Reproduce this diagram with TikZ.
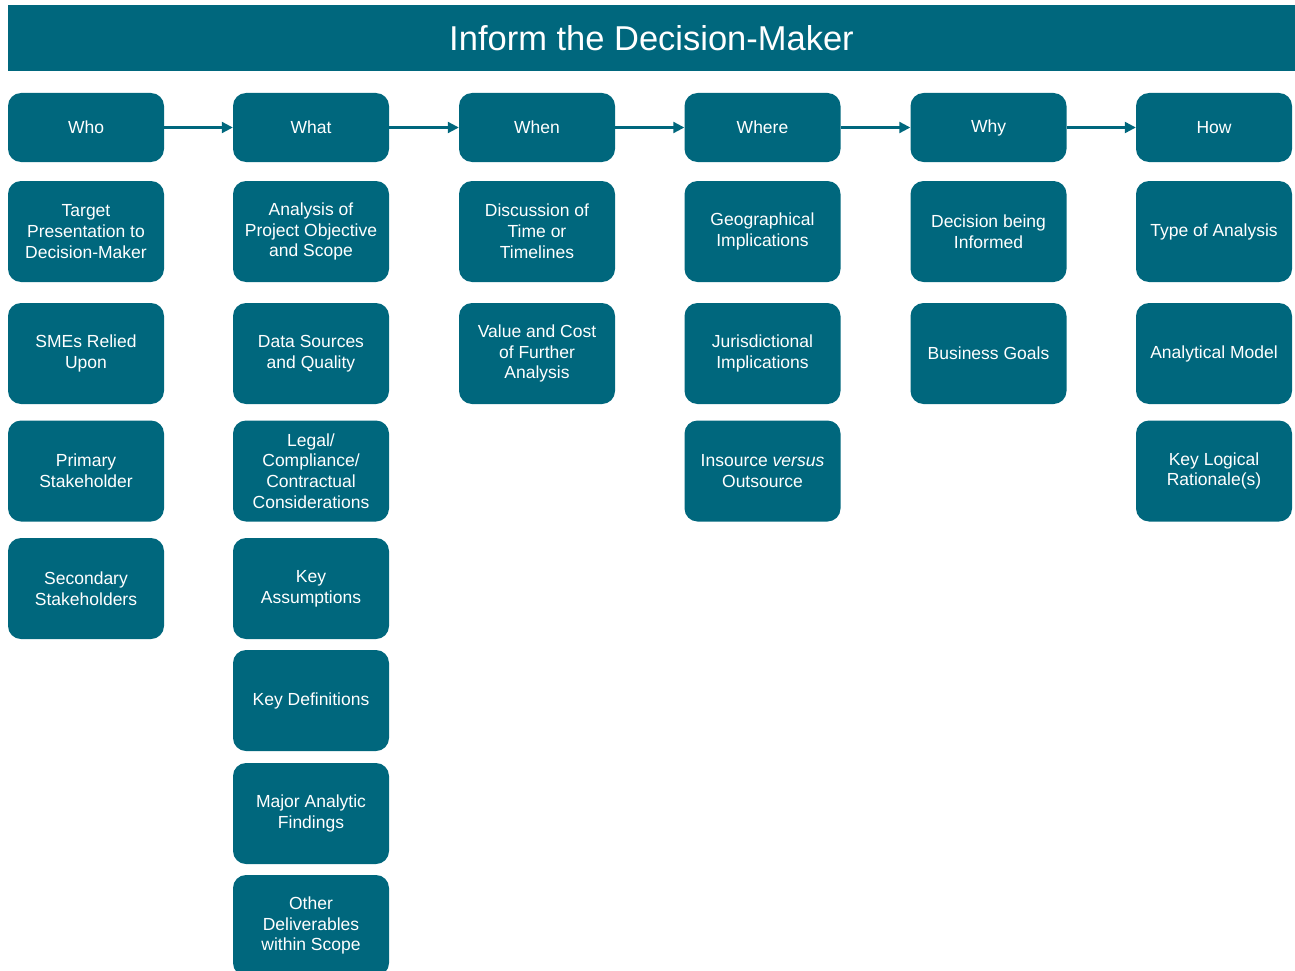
\documentclass[tikz,border=0pt]{standalone}
\usepackage{fontspec}
\setmainfont{Liberation Sans}
\usetikzlibrary{arrows.meta}
\definecolor{teal}{RGB}{0,103,125}
\begin{document}
\begin{tikzpicture}[x=1pt,y=-1pt,
  box/.style={fill=teal, rounded corners=13pt, text=white, align=center,
    minimum width=156pt, inner sep=0pt,
    font=\fontsize{17.5}{20.8}\selectfont},
  head/.style={box, minimum height=69pt},
  item/.style={box, minimum height=101pt},
  flow/.style={draw=teal, line width=2.2pt, -{Triangle[length=11pt,width=11pt]}}]
\useasboundingbox (0,0) rectangle (1295,971);
\clip (0,0) rectangle (1295,971);
% title banner
\node[fill=teal, minimum width=1287pt, minimum height=66pt, inner sep=0pt,
  text=white, font=\fontsize{34.5}{40}\selectfont] (title) at (651.5,38) {Inform the Decision-Maker};
% column headers
\node[head] (who)   at (86,127.5)    {Who};
\node[head] (what)  at (311,127.5)   {What};
\node[head] (when)  at (537,127.5)   {When};
\node[head] (where) at (762.5,127.5) {Where};
\node[head] (why)   at (988.5,127.5) {Why};
\node[head] (how)   at (1214,127.5)  {How};
\foreach \a/\b in {who/what,what/when,when/where,where/why,why/how}
  \draw[flow] (\a.east) -- (\b.west);
% Who
\node[item] (who1) at (86,231.5) {Target\\Presentation to\\Decision-Maker};
\node[item] (who2) at (86,353.5) {SMEs Relied\\Upon};
\node[item] (who3) at (86,471)   {Primary\\Stakeholder};
\node[item] (who4) at (86,588.5) {Secondary\\Stakeholders};
% What
\node[item] (what1) at (311,231.5) {Analysis of\\Project Objective\\and Scope};
\node[item] (what2) at (311,353.5) {Data Sources\\and Quality};
\node[item] (what3) at (311,471)   {Legal/\\Compliance/\\Contractual\\Considerations};
\node[item] (what4) at (311,588.5) {Key\\Assumptions};
\node[item] (what5) at (311,700.5) {Key Definitions};
\node[item] (what6) at (311,813.5) {Major Analytic\\Findings};
\node[item] (what7) at (311,925.5) {Other\\Deliverables\\within Scope};
% When
\node[item] (when1) at (537,231.5) {Discussion of\\Time or\\Timelines};
\node[item] (when2) at (537,353.5) {Value and Cost\\of Further\\Analysis};
% Where
\node[item] (where1) at (762.5,231.5) {Geographical\\Implications};
\node[item] (where2) at (762.5,353.5) {Jurisdictional\\Implications};
\node[item] (where3) at (762.5,471)   {Insource \textit{versus}\\Outsource};
% Why
\node[item] (why1) at (988.5,231.5) {Decision being\\Informed};
\node[item] (why2) at (988.5,353.5) {Business Goals};
% How
\node[item] (how1) at (1214,231.5) {Type of Analysis};
\node[item] (how2) at (1214,353.5) {Analytical Model};
\node[item] (how3) at (1214,471)   {Key Logical\\Rationale(s)};
\end{tikzpicture}
\end{document}
